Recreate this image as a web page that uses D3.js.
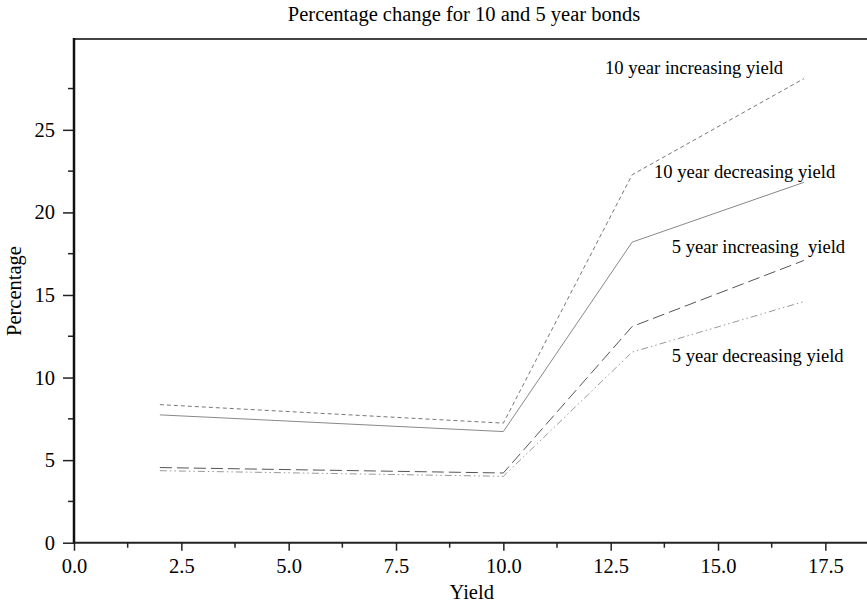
<!DOCTYPE html>
<html><head><meta charset="utf-8">
<script src="https://cdn.jsdelivr.net/npm/d3@7"></script>
<style>
html,body{margin:0;padding:0;background:#fff;}
text{font-family:"Liberation Serif","Times New Roman",serif;fill:#000;}
</style></head>
<body>
<svg id="c" width="867" height="606"></svg>
<script>
const yields = [2, 10, 13, 17];
const tenYearIncreasing = [8.36, 7.24, 22.28, 28.1];
const tenYearDecreasing = [7.74, 6.73, 18.2, 21.82];
const fiveYearIncreasing = [4.55, 4.22, 13.09, 17.09];
const fiveYearDecreasing = [4.36, 4.02, 11.54, 14.6];
const seriesNames = ["10 year increasing yield","10 year decreasing yield","5 year increasing  yield","5 year decreasing yield"];
const xTicks = [0, 2.5, 5, 7.5, 10, 12.5, 15, 17.5];
const yTicks = [0, 5, 10, 15, 20, 25];

(function(){
const svg = d3.select("#c");
const pLeft = 74, pRight = 867, pTop = 39, pBottom = 542.7;
const x = d3.scaleLinear().domain([0, 18.47]).range([pLeft, pRight]);
const y = d3.scaleLinear().domain([0, 30.5]).range([pBottom, pTop]);

const series = [
  {name: seriesNames[0], vals: tenYearIncreasing, dash: "4,3", color: "#777", w: 1, lx: 605, ly: 74},
  {name: seriesNames[1], vals: tenYearDecreasing, dash: null, color: "#888", w: 1, lx: 654, ly: 178},
  {name: seriesNames[2], vals: fiveYearIncreasing, dash: "12,5", color: "#555", w: 1, lx: 671.7, ly: 253},
  {name: seriesNames[3], vals: fiveYearDecreasing, dash: "7,3,1.5,3,1.5,3", color: "#999", w: 1, lx: 671.7, ly: 361.5}
];

const line = d3.line().x((d,i)=>x(yields[i])).y(d=>y(d));
series.forEach(s=>{
  svg.append("path").attr("d", line(s.vals)).attr("fill","none")
    .attr("stroke", s.color).attr("stroke-width", s.w)
    .attr("stroke-dasharray", s.dash);
  svg.append("text").attr("x", s.lx).attr("y", s.ly).attr("font-size", 18.6)
    .style("white-space","pre").text(s.name);
});

svg.append("line").attr("x1", pLeft).attr("x2", pRight).attr("y1", pTop).attr("y2", pTop)
  .attr("stroke", "#444").attr("stroke-width", 2);

const yAxis = d3.axisLeft(y).tickValues(yTicks).tickFormat(d3.format("d")).tickSize(11).tickPadding(8);
const gy = svg.append("g").attr("transform", `translate(${pLeft},0)`).call(yAxis);
gy.select(".domain").remove();
gy.selectAll(".tick line").attr("stroke","#222").attr("stroke-width",1.5);
gy.selectAll("text").attr("font-size", 20.5).attr("font-family","Liberation Serif");
const yMinor = [2.5, 7.5, 12.5, 17.5, 22.5, 27.5];
svg.append("g").selectAll("line").data(yMinor).join("line")
  .attr("x1", pLeft-6).attr("x2", pLeft).attr("y1", d=>y(d)).attr("y2", d=>y(d))
  .attr("stroke","#222").attr("stroke-width",1.5);
svg.append("line").attr("x1", pLeft).attr("x2", pLeft).attr("y1", pTop-1).attr("y2", pBottom+1)
  .attr("stroke","#111").attr("stroke-width",2.5);

const xAxis = d3.axisBottom(x).tickValues(xTicks).tickFormat(d3.format(".1f")).tickSize(8).tickPadding(8);
const gx = svg.append("g").attr("transform", `translate(0,${pBottom})`).call(xAxis);
gx.select(".domain").remove();
gx.selectAll(".tick line").attr("stroke","#222").attr("stroke-width",1.5);
gx.selectAll("text").attr("font-size", 20.5).attr("font-family","Liberation Serif");
const xMinor = [1.25, 3.75, 6.25, 8.75, 11.25, 13.75, 16.25];
svg.append("g").selectAll("line").data(xMinor).join("line")
  .attr("x1", d=>x(d)).attr("x2", d=>x(d)).attr("y1", pBottom).attr("y2", pBottom+5)
  .attr("stroke","#222").attr("stroke-width",1.5);
svg.append("line").attr("x1", pLeft).attr("x2", pRight).attr("y1", pBottom).attr("y2", pBottom)
  .attr("stroke","#222").attr("stroke-width",2);

svg.append("text").attr("x", 464).attr("y", 21).attr("text-anchor","middle").attr("font-size", 20.5)
  .text("Percentage change for 10 and 5 year bonds");
svg.append("text").attr("x", 471.7).attr("y", 599).attr("text-anchor","middle").attr("font-size", 20.5)
  .text("Yield");
svg.append("text").attr("transform","translate(21,291) rotate(-90)").attr("text-anchor","middle").attr("font-size", 20.5)
  .text("Percentage");
})();
</script>
</body></html>
